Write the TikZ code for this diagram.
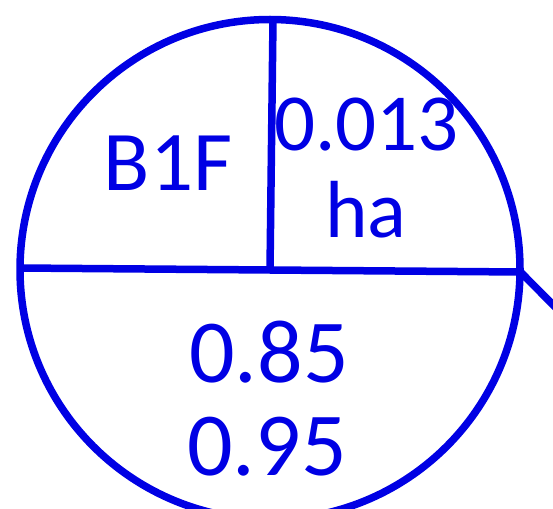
\documentclass[tikz,border=0pt]{standalone}
\usepackage{fontspec}
\setmainfont{Carlito}
\definecolor{ink}{RGB}{0,0,228}
\begin{document}
\begin{tikzpicture}[x=1pt,y=-1pt,
  edge/.style={draw=ink,line width=7.5pt},
  lbl/.style={text=ink,inner sep=0pt,anchor=base}]
\useasboundingbox (0,0) rectangle (553,508);
\clip (0,0) rectangle (553,508);
\node[circle,draw=ink,line width=7.5pt,minimum size=500pt,inner sep=0pt] (c) at (270,269.5) {};
\coordinate (L) at (20,268);
\coordinate (R) at (520.5,272);
\coordinate (T) at (273,19.5);
\coordinate (M) at (270,270);
\coordinate (D) at (570,322);
\draw[edge] (L) -- (R);
\draw[edge] (T) -- (M);
\draw[edge,line cap=round] (R) -- (D);
\node[lbl,font=\fontsize{85}{85}\selectfont] (b1f) at (168,190) {B1F};
\node[lbl,font=\fontsize{81}{81}\selectfont] (area) at (366.5,150) {0.013};
\node[lbl,font=\fontsize{81}{81}\selectfont] (ha) at (366,237) {ha};
\node[lbl,font=\fontsize{90}{90}\selectfont] (v1) at (269,382) {0.85};
\node[lbl,font=\fontsize{90}{90}\selectfont] (v2) at (267,475) {0.95};
\end{tikzpicture}
\end{document}
